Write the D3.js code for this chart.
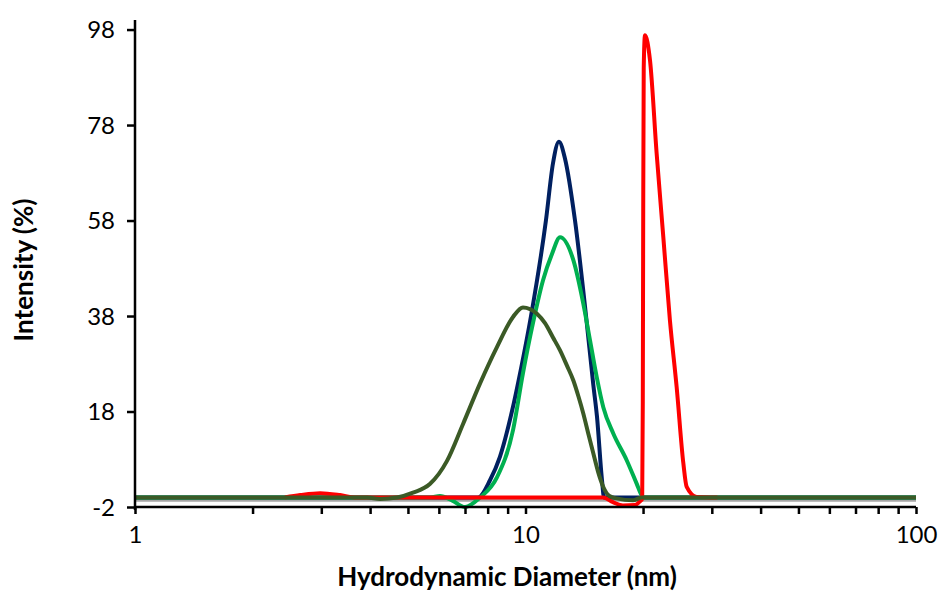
<!DOCTYPE html>
<html>
<head>
<meta charset="utf-8">
<script src="https://cdn.jsdelivr.net/npm/d3@7"></script>
<style>
	body { margin: 0; background: #fff; }
	svg { display: block; }
	.tick-label { font-family: Lato, "Noto Sans", sans-serif; font-size: 24px; fill: #000; }
	.label { font-family: Lato, "Noto Sans", sans-serif; font-size: 26px; font-weight: bold; fill: #000; }
</style>
</head>
<body>
<svg width="941" height="600"></svg>
<script>
// size in nm, intensity in %
const navySize = [1, 7.56, 8.11, 8.6, 9.23, 9.74, 10.33, 11.28, 11.76, 12.18, 12.62, 13.39, 14.29, 14.92, 15.24, 15.7, 15.89, 100];
const navyValue = [0, 0, 3.6, 8.5, 18, 27, 38, 58, 70, 74.5, 71, 58, 38, 23.5, 17, 3.6, 0, 0];

const greenSize = [1, 5.7, 6.04, 6.48, 7.0, 7.65, 8.45, 9.29, 9.85, 10.45, 11.09, 11.69, 12.26, 13.26, 14.06, 14.63, 15.22, 15.82, 16.78, 18.16, 19.26, 19.84, 20.11, 100];
const greenValue = [0, 0, 0.3, -0.6, -2, 0, 4.2, 14.1, 26, 36.5, 45.5, 51, 54.5, 49.7, 40.6, 32.9, 25.2, 18.9, 13.4, 7.8, 2.9, 0.45, 0, 0];

const redSize = [2.42, 2.65, 2.98, 3.35, 3.66, 15.8, 16.75, 17.77, 19.07, 19.65, 19.9, 19.97, 20.02, 20.08, 20.23, 20.84, 21.67, 22.54, 23.44, 24.39, 25.36, 25.87, 27.44, 29.7, 31];
const redValue = [0, 0.5, 0.9, 0.5, 0, 0, -1, -1.7, -1.6, -0.8, -0.3, 20, 60, 90, 96.8, 91.5, 72, 54.5, 37, 23, 7.2, 2.2, 0.1, 0, 0];

const oliveSize = [1, 3.93, 4.24, 4.69, 5.15, 5.69, 6.29, 6.92, 7.65, 8.45, 9.29, 9.85, 10.7, 11.22, 11.76, 12.26, 12.77, 13.26, 13.66, 14.06, 14.5, 14.92, 15.35, 15.82, 16.4, 17.12, 18.85, 19.84, 100];
const oliveValue = [0, 0, -0.3, 0, 1, 2.8, 7.6, 15.4, 23.9, 31.5, 37.8, 39.8, 38.5, 36.5, 33.5, 30.8, 27.6, 24.5, 21.2, 17.6, 13.2, 9.2, 5.3, 2.2, 0.3, -0.2, -0.6, 0, 0];

const greySize = [1, 100];
const greyValue = [-0.5, -0.5];

const yTicks = [-2, 18, 38, 58, 78, 98];
const xTicks = [1, 10, 100];
const xMinorTicks = [2, 3, 4, 5, 6, 7, 8, 9, 20, 30, 40, 50, 60, 70, 80, 90];

const series = [
	{ size: greySize, value: greyValue, color: "#a6a6a6" },
	{ size: navySize, value: navyValue, color: "#002060" },
	{ size: greenSize, value: greenValue, color: "#00b050" },
	{ size: redSize, value: redValue, color: "#ff0000" },
	{ size: oliveSize, value: oliveValue, color: "#3b5a26" }
];

document.addEventListener("DOMContentLoaded", function() {
	renderData(series);
});

function renderData(data) {
	const svg = d3.select("svg");
	const width = 941, height = 600;
	const margin = { left: 135, right: 25, top: 20, bottom: 93 };

	const xScale = d3.scaleLog()
					 .domain([1, 100])
					 .range([margin.left, width - margin.right]);
	const yScale = d3.scaleLinear()
					 .domain([-2, 100])
					 .range([height - margin.bottom, margin.top]);

	const line = d3.line()
				   .x(d => xScale(d[0]))
				   .y(d => yScale(d[1]))
				   .curve(d3.curveMonotoneX);

	svg.append("g")
	   .selectAll("path")
	   .data(data)
	   .enter()
	   .append("path")
	   .attr("d", s => line(s.size.map((x, i) => [x, s.value[i]])))
	   .attr("fill", "none")
	   .attr("stroke", s => s.color)
	   .attr("stroke-width", 4)
	   .attr("stroke-linejoin", "round");

	renderAxis(svg, xScale, yScale, { height, margin });
	renderAxisLabel(svg);
}

function renderAxis(svg, xScale, yScale, dims) {
	const { height, margin } = dims;

	const xAxis = d3.axisBottom(xScale)
					.tickValues(xTicks.concat(xMinorTicks))
					.tickSize(7)
					.tickFormat(d => xTicks.includes(d) ? d : "");

	const yAxis = d3.axisLeft(yScale)
					.tickValues(yTicks)
					.tickSize(8)
					.tickFormat(d => d);

	const xg = svg.append("g")
				  .attr("transform", `translate(0, ${height - margin.bottom})`)
				  .call(xAxis);

	const yg = svg.append("g")
				  .attr("transform", `translate(${margin.left}, 0)`)
				  .call(yAxis);

	[xg, yg].forEach(g => {
		g.select(".domain").attr("stroke", "#000").attr("stroke-width", 2.5);
		g.selectAll(".tick line").attr("stroke", "#000").attr("stroke-width", 2.5);
		g.selectAll(".tick text").attr("class", "tick-label");
	});
	const xr = xScale.range();
	xg.select(".domain").attr("d", `M${xr[0]},0H${xr[1]}`);
	yg.select(".domain").attr("d", `M0,${yScale.range()[1]}V${yScale.range()[0] + 3}`);

	xg.selectAll(".tick text").attr("dy", "1.1em");
	yg.selectAll(".tick text").attr("x", -20).attr("dy", "0.35em");
}

function renderAxisLabel(svg) {
	svg.append("text")
	   .attr("class", "label")
	   .attr("text-anchor", "middle")
	   .attr("x", 507)
	   .attr("y", 586)
	   .text("Hydrodynamic Diameter (nm)");

	svg.append("text")
	   .attr("class", "label")
	   .attr("text-anchor", "middle")
	   .attr("transform", `translate(33, 270) rotate(-90)`)
	   .text("Intensity (%)");
}
</script>
</body>
</html>
